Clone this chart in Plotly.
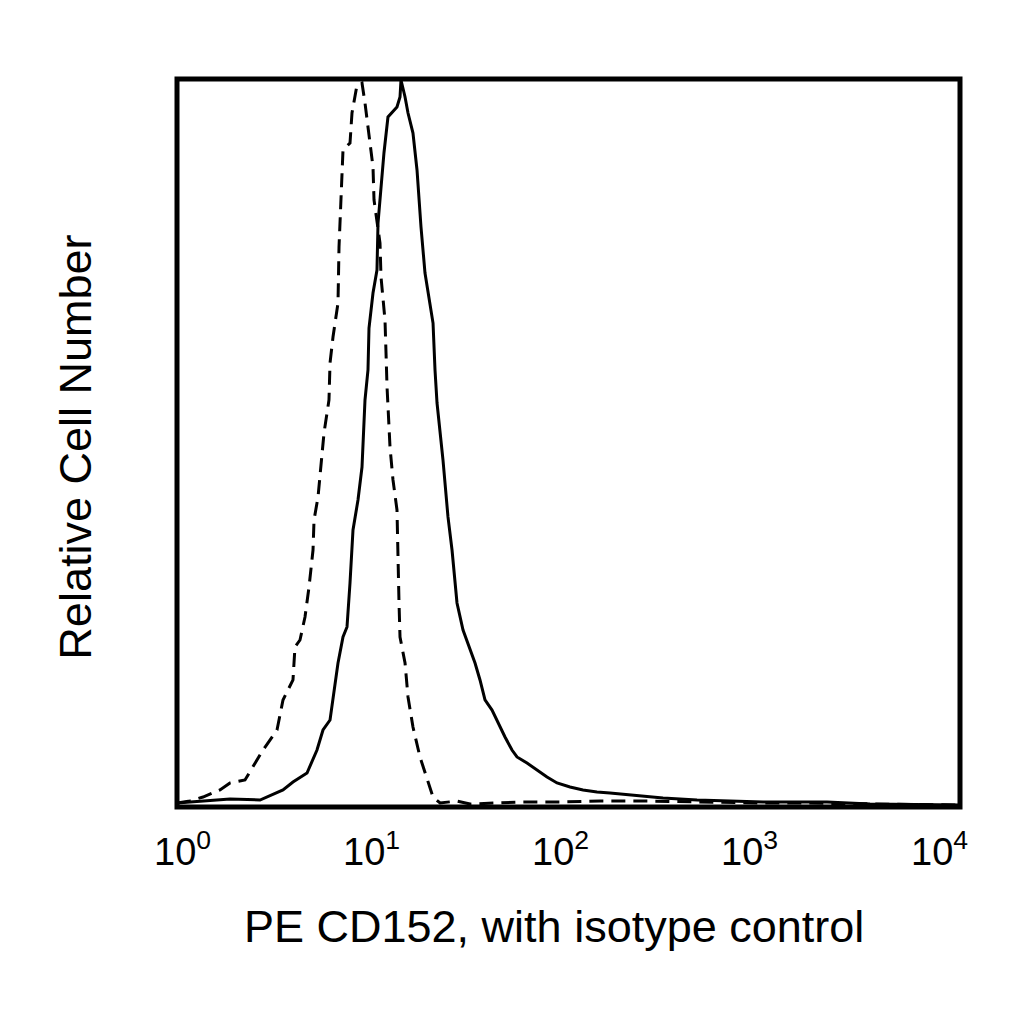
import math
import plotly.graph_objects as go

# Stained sample (solid) - fluorescence intensity and relative counts
stained_x = [1.0, 1.311, 1.866, 2.655, 3.479, 3.913, 4.615, 5.19, 5.57, 6.05, 6.265, 6.645,
             7.047, 7.387, 7.652, 7.927, 8.406, 8.813, 9.129, 9.456, 9.568, 10.03, 10.51,
             10.64, 11.41, 11.96, 13.30, 13.78, 13.94, 14.62, 15.14, 16.05, 16.83, 17.64,
             18.49, 19.38, 20.32, 20.80, 21.30, 22.85, 24.23, 25.41, 26.94, 28.92, 31.40,
             33.30, 35.31, 37.45, 40.67, 43.63, 47.38, 51.45, 54.56, 61.38, 69.05, 77.67,
             87.38, 101.8, 118.6, 139.8, 162.9, 206.2, 304.0, 453.4, 985.4, 2093, 3469, 10000]
stained_y = [0.55, 0.82, 1.10, 0.96, 2.34, 3.43, 4.67, 7.83, 10.58, 11.95, 15.11, 19.78,
             23.35, 24.73, 30.77, 38.05, 42.17, 46.70, 55.91, 60.03, 65.80, 70.60, 73.76,
             80.22, 89.84, 94.78, 96.15, 97.53, 99.86, 97.53, 95.33, 92.58, 87.50, 79.67,
             73.35, 69.64, 66.48, 60.03, 55.49, 47.66, 39.84, 35.30, 28.02, 24.31, 21.57,
             19.78, 17.45, 14.70, 13.32, 11.54, 9.62, 7.83, 6.87, 6.04, 5.08, 4.12,
             3.30, 2.75, 2.34, 2.06, 1.92, 1.65, 1.24, 0.96, 0.69, 0.69, 0.41, 0.27]

# Isotype control (dashed)
isotype_x = [1.0, 1.165, 1.358, 1.658, 1.866, 2.225, 2.750, 3.243, 3.479, 3.913, 4.006, 4.249,
             4.507, 4.725, 4.953, 5.012, 5.253, 5.505, 5.636, 5.976, 6.05, 6.265, 6.645,
             6.724, 6.884, 6.965, 7.047, 7.652, 7.834, 8.308, 8.813, 9.129, 9.568, 10.03,
             10.15, 10.89, 11.02, 11.55, 11.69, 11.83, 12.25, 12.69, 13.30, 13.46, 13.62,
             13.78, 14.62, 15.14, 16.05, 17.43, 19.61, 20.32, 22.07, 26.94, 31.40, 56.53,
             90.5, 144.9, 260.9, 469.7, 951.3, 1523, 10000]
isotype_y = [0.55, 0.82, 1.37, 2.34, 3.30, 3.71, 7.83, 10.58, 14.70, 17.45, 21.98, 22.94,
             26.10, 30.22, 35.30, 39.42, 42.58, 48.08, 51.37, 55.91, 60.99, 64.56, 69.23,
             76.92, 82.97, 86.13, 90.25, 91.21, 95.33, 99.18, 99.45, 96.70, 92.03, 87.91,
             83.38, 77.47, 72.80, 66.90, 62.36, 57.69, 49.45, 44.92, 40.80, 32.55, 28.02,
             23.35, 19.78, 15.11, 10.99, 6.87, 2.75, 1.37, 0.55, 0.82, 0.41, 0.69,
             0.69, 0.82, 0.82, 0.69, 0.55, 0.55, 0.27]

tick_vals = [1, 10, 100, 1000, 10000]
tick_text = ["10<sup>0</sup>", "10<sup>1</sup>", "10<sup>2</sup>", "10<sup>3</sup>", "10<sup>4</sup>"]

x_title = "PE CD152, with isotype control"
y_title = "Relative Cell Number"

fig = go.Figure()
fig.add_trace(go.Scatter(x=isotype_x, y=isotype_y, mode="lines",
                         line=dict(color="black", width=3, dash="14px,8px")))
fig.add_trace(go.Scatter(x=stained_x, y=stained_y, mode="lines",
                         line=dict(color="black", width=3)))

font_family = "Liberation Sans, Arial, sans-serif"

# frame drawn as a shape so that its line is centred on the plot edge
fig.add_shape(type="rect", xref="paper", yref="paper", x0=0, x1=1, y0=0, y1=1,
              line=dict(color="black", width=5), layer="above")

# tick labels in the original sit on a slightly narrower scale than the plot
for val, txt in zip(tick_vals, tick_text):
    fig.add_annotation(text=txt, xref="paper", yref="paper",
                       x=0.007 + 0.2416 * math.log10(val), y=-0.058,
                       xanchor="center", yanchor="middle", showarrow=False,
                       font=dict(size=38))

fig.add_annotation(text=x_title, xref="paper", yref="paper", x=0.482, y=-0.1635,
                   xanchor="center", yanchor="middle", showarrow=False,
                   font=dict(size=45))
fig.add_annotation(text=y_title, xref="paper", yref="paper", x=-0.129, y=0.495,
                   xanchor="center", yanchor="middle", showarrow=False, textangle=-90,
                   font=dict(size=45))

fig.update_layout(
    width=1024,
    height=1024,
    margin=dict(l=169, r=72, t=71, b=225),
    paper_bgcolor="white",
    plot_bgcolor="white",
    showlegend=False,
    font=dict(family=font_family, color="black", size=38),
    xaxis=dict(
        type="log",
        range=[0, 4],
        showticklabels=False,
        ticks="",
        showgrid=False,
        zeroline=False,
        showline=False,
    ),
    yaxis=dict(
        range=[0, 100],
        showticklabels=False,
        ticks="",
        showgrid=False,
        zeroline=False,
        showline=False,
    ),
)

fig.write_html("out.html")
